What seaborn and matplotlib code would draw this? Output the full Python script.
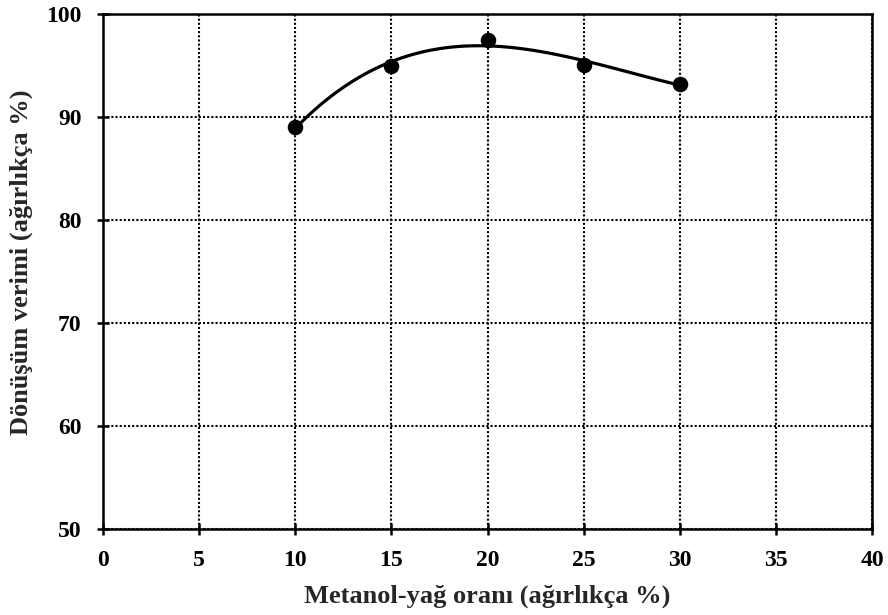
import pandas as pd
import matplotlib
matplotlib.use("Agg")
import matplotlib.pyplot as plt
import seaborn as sns

# Methanol-to-oil ratio (wt %) and conversion yield (wt %)
metanol_orani = [10, 15, 20, 25, 30]
donusum_verimi = [89.0, 95.0, 97.5, 95.1, 93.2]

x_ticks = [0, 5, 10, 15, 20, 25, 30, 35, 40]
y_ticks = [50, 60, 70, 80, 90, 100]

sns.set_theme(style="white")
plt.rcParams["font.family"] = ["Liberation Serif", "DejaVu Serif"]
plt.rcParams["font.weight"] = "bold"

df = pd.DataFrame({"x": metanol_orani, "y": donusum_verimi})

fig = plt.figure(figsize=(8.88, 6.15), dpi=100)
ax = fig.add_axes([0.116, 0.140, 0.866, 0.837])

# Data points with a third-order polynomial trend line
sns.regplot(data=df, x="x", y="y", ax=ax, order=3, ci=None, truncate=True,
            color="black",
            scatter_kws=dict(s=125, linewidths=0, zorder=4, alpha=1),
            line_kws=dict(linewidth=2.3, zorder=3))

ax.set_xlim(0, 40)
ax.set_ylim(50, 100)
ax.set_xticks(x_ticks)
ax.set_yticks(y_ticks)
ax.grid(True, color="black", linestyle=(0, (1, 1)), linewidth=1.5)

for s in ax.spines.values():
    s.set_color("black")
    s.set_linewidth(1.8)

ax.tick_params(axis="both", direction="inout", length=9, width=1.8,
               colors="black", labelsize=17)
ax.tick_params(axis="x", bottom=True, top=False, pad=11)
ax.tick_params(axis="y", left=True, right=False, pad=11)
for lbl in ax.get_xticklabels() + ax.get_yticklabels():
    lbl.set_fontweight("bold")

ax.set_xlabel("Metanol-yağ oranı (ağırlıkça %)", fontsize=19, fontweight="bold")
ax.set_ylabel("Dönüşüm verimi (ağırlıkça %)", fontsize=19, fontweight="bold")
ax.xaxis.set_label_coords(0.5, -0.109)
ax.yaxis.set_label_coords(-0.091, 0.518)

fig.savefig("out.png", dpi=100)
